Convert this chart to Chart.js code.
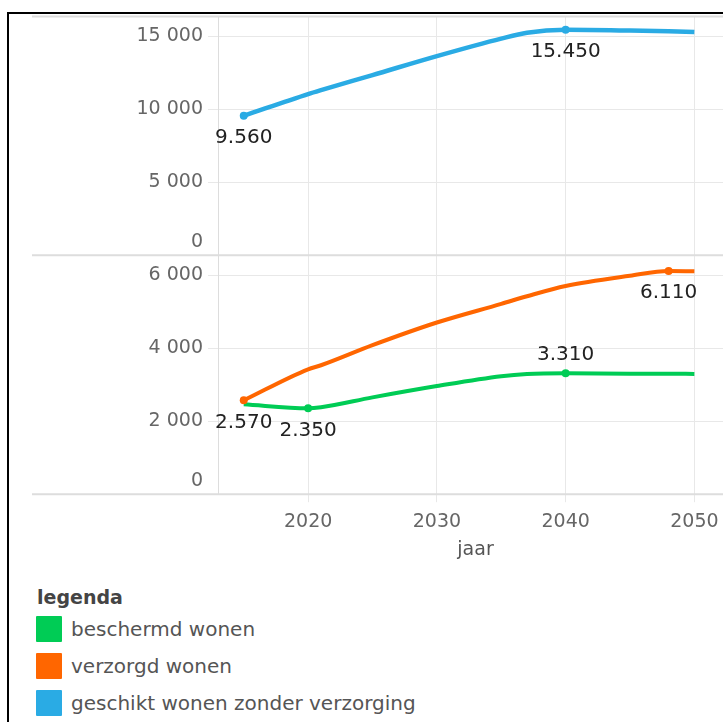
<!DOCTYPE html>
<html>
<head>
<meta charset="utf-8">
<script src="https://cdn.jsdelivr.net/npm/chart.js@4.4.0/dist/chart.umd.min.js"></script>
<style>
    html, body { margin: 0; padding: 0; background: #fff; overflow: hidden; width: 723px; height: 722px; }
    #frame { position: absolute; left: 7px; top: 12px; width: 780px; height: 780px; border-left: 2px solid #000; border-top: 2px solid #000; }
    #wrap { position: absolute; left: 10px; top: 0px; width: 727px; height: 562px; }
    #legend { position: absolute; left: 30px; top: 584px; font-family: "DejaVu Sans", sans-serif; }
    #legend .title { font-weight: bold; font-size: 19px; color: #444; line-height: 26px; margin-left: 7px; }
    #legend .item { display: flex; align-items: center; height: 37px; margin-left: 6px; font-size: 20px; color: #555; }
    #legend .sw { width: 26px; height: 26px; margin-right: 9px; border-radius: 1px; }
</style>
</head>
<body>
<div id="frame"></div>
<div id="wrap"><canvas id="chart"></canvas></div>
<div id="legend"></div>

<script>
// ── Data ─────────────────────────────────────────────────────────────────
const years = [2015, 2020, 2021, 2025, 2030, 2035, 2037, 2040, 2045, 2048, 2050];
const beschermd = [2460, 2350, 2380, 2650, 2960, 3230, 3290, 3310, 3300, 3300, 3290];
const verzorgd  = [2570, 3420, 3530, 4080, 4700, 5210, 5420, 5700, 5980, 6110, 6100];
const geschikt  = [9560, 11050, 11320, 12350, 13650, 14850, 15250, 15450, 15400, 15350, 15300];

const seriesNames = ["beschermd wonen", "verzorgd wonen", "geschikt wonen zonder verzorging"];
const xTicks = [2020, 2030, 2040, 2050];
const topTicks = [0, 5000, 10000, 15000];
const bottomTicks = [0, 2000, 4000, 6000];

const GREEN = "#00cc55";
const ORANGE = "#ff6600";
const BLUE = "#2aabe4";
const FONT = "'DejaVu Sans', sans-serif";

Chart.defaults.font.family = FONT;

const toPoints = (vals) => years.map((y, i) => ({ x: y, y: vals[i] }));
const spaceThousands = (v) => String(v).replace(/\B(?=(\d{3})+(?!\d))/g, " ");

// marker alleen op de gelabelde jaren
function markerRadius(marked) {
    return (ctx) => (marked.includes(years[ctx.dataIndex]) ? 4 : 0);
}

// ── Plugin: waardelabels bij gemarkeerde punten ─────────────────────────
const valueLabels = {
    id: "valueLabels",
    afterDatasetsDraw(chart) {
        const ctx = chart.ctx;
        ctx.save();
        ctx.font = "20px " + FONT;
        ctx.fillStyle = "#222";
        ctx.textAlign = "center";
        ctx.textBaseline = "middle";
        chart.data.datasets.forEach((ds, i) => {
            const meta = chart.getDatasetMeta(i);
            Object.entries(ds.valueLabels || {}).forEach(([yr, pos]) => {
                const idx = years.indexOf(Number(yr));
                const pt = meta.data[idx];
                const txt = ds.data[idx].y.toLocaleString("nl-NL");
                ctx.fillText(txt, pt.x, pos === "above" ? pt.y - 18 : pt.y + 22);
            });
        });
        ctx.restore();
    },
};

// ── Plugin: scheidingslijnen tussen de panelen + "0" net boven de lijn ──
const panelLines = {
    id: "panelLines",
    beforeDatasetsDraw(chart) {
        const { ctx, chartArea, scales } = chart;
        ctx.save();
        ctx.strokeStyle = "#dddddd";
        ctx.lineWidth = 2;
        [scales.yTop.top, scales.yBottom.top, chartArea.bottom].forEach((y) => {
            ctx.beginPath();
            ctx.moveTo(22, y);
            ctx.lineTo(chartArea.right, y);
            ctx.stroke();
        });
        ctx.font = "19px " + FONT;
        ctx.fillStyle = "#666";
        ctx.textAlign = "right";
        ctx.textBaseline = "middle";
        [scales.yTop, scales.yBottom].forEach((s) => {
            ctx.fillText("0", s.right - 15, s.getPixelForValue(0) - 13);
        });
        ctx.restore();
    },
};

const tickFont = { family: FONT, size: 19 };

function yAxis(max, ticks) {
    return {
        type: "linear",
        position: "left",
        stack: "panels",
        stackWeight: 1,
        min: 0,
        max: max,
        afterBuildTicks: (axis) => { axis.ticks = ticks.map((v) => ({ value: v })); },
        afterFit: (axis) => { axis.width = 208; },
        grid: { color: "#e8e8e8", tickLength: 10 },
        border: { color: "#dddddd" },
        ticks: {
            font: tickFont,
            color: "#666",
            padding: 5,
            callback: (v) => (v === 0 ? "" : spaceThousands(v)),
        },
    };
}

new Chart(document.getElementById("chart"), {
    type: "line",
    data: {
        datasets: [
            {
                label: seriesNames[1],
                data: toPoints(verzorgd),
                yAxisID: "yBottom",
                borderColor: ORANGE,
                backgroundColor: ORANGE,
                borderWidth: 4,
                pointRadius: markerRadius([2015, 2048]),
                pointBorderWidth: 0,
                cubicInterpolationMode: "monotone",
                valueLabels: { 2015: "below", 2048: "below" },
                order: 1,
            },
            {
                label: seriesNames[0],
                data: toPoints(beschermd),
                yAxisID: "yBottom",
                borderColor: GREEN,
                backgroundColor: GREEN,
                borderWidth: 4,
                pointRadius: markerRadius([2020, 2040]),
                pointBorderWidth: 0,
                cubicInterpolationMode: "monotone",
                valueLabels: { 2020: "below", 2040: "above" },
                order: 2,
            },
            {
                label: seriesNames[2],
                data: toPoints(geschikt),
                yAxisID: "yTop",
                borderColor: BLUE,
                backgroundColor: BLUE,
                borderWidth: 4.5,
                pointRadius: markerRadius([2015, 2040]),
                pointBorderWidth: 0,
                cubicInterpolationMode: "monotone",
                valueLabels: { 2015: "below", 2040: "below" },
                order: 3,
            },
        ],
    },
    options: {
        responsive: true,
        maintainAspectRatio: false,
        animation: false,
        layout: { padding: 0 },
        scales: {
            x: {
                type: "linear",
                position: "bottom",
                min: 2013,
                max: 2053,
                afterBuildTicks: (axis) => { axis.ticks = xTicks.map((v) => ({ value: v })); },
                grid: { color: "#e8e8e8", tickLength: 8 },
                border: { color: "#dddddd" },
                ticks: { font: tickFont, color: "#666", padding: 8, callback: (v) => String(v) },
                title: {
                    display: true,
                    text: "jaar",
                    font: { family: FONT, size: 19, lineHeight: 1.0 },
                    color: "#555",
                    padding: { top: 0, bottom: 2 },
                },
            },
            yBottom: yAxis(6540, bottomTicks),
            yTop: yAxis(16370, topTicks),
        },
        plugins: {
            legend: { display: false },
        },
    },
    plugins: [panelLines, valueLabels],
});

// ── Legenda ──────────────────────────────────────────────────────────────
const legendColors = [GREEN, ORANGE, BLUE];
const legend = document.getElementById("legend");
legend.innerHTML = '<div class="title">legenda</div>' +
    seriesNames.map((n, i) =>
        '<div class="item"><span class="sw" style="background:' + legendColors[i] + '"></span>' + n + "</div>"
    ).join("");
</script>
</body>
</html>
